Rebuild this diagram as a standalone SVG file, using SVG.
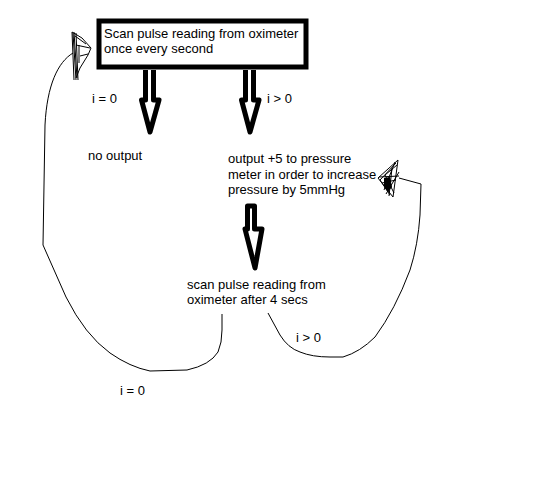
<svg xmlns="http://www.w3.org/2000/svg" width="535" height="504" viewBox="0 0 535 504">
<style>
.t{font-family:"Liberation Sans",Arial,sans-serif;font-size:13px;fill:#000}
.ln{fill:none;stroke:#000;stroke-width:1}
.arr{fill:#fff;stroke:#000;stroke-width:5;stroke-linejoin:round}
.sc{fill:none;stroke:#000;stroke-width:1}
</style>
<rect width="535" height="504" fill="#fff"/>
<g id="connectors">
<path class="ln" d="M73,53 C58,62 47,85 45,125 L43,245 L66,297 Q85,335 110,353 Q130,367 150,371 L187,370 Q210,365 218,352 Q222,343 222,330 V314"/>
<path class="ln" d="M268,313 L280,335 Q288,348 300,352 Q312,357 330,357 L343,357 Q360,352 375,337 Q395,310 410,270 Q418,245 420,215 L421,184 L410,181 L399,178"/>
<path class="arr" d="M145.5,70 V100 H141.5 L150,132 L159,100 H153.5 V70"/>
<path class="arr" d="M245.5,70 V100 H241.5 L250,132 L259,100 H253.5 V70"/>
<path class="arr" d="M247.5,206 H254.5 V229 H262 L255,268 L245,229 H247.5 Z"/>
<text class="t" x="92" y="103">i = 0</text>
<text class="t" x="267" y="103">i &gt; 0</text>
<text class="t" x="296" y="342">i &gt; 0</text>
<text class="t" x="120" y="395">i = 0</text>
</g>
<g id="scribble-left">
<path class="sc" d="M72,32 L74,80 M74,32 L77,78 M76,33 L78,80 M73,33 L76,80 M72,32 L82,38 L91,48 L88,55 L80,68 L76,78 M76,45 L90,48 M79,45 L79,63 M80,56 L88,54 M75,36 L86,44"/>
</g>
<g id="scribble-right">
<path class="sc" d="M398,160 L378,178 L393,197 L398,160 M396,163 L380,180 L390,195 M397,165 L385,175 L394,193 M379,177 L399,176 M382,183 L396,180 M392,168 L389,196 M395,162 L384,190 M399,172 L386,194"/>
<path d="M384,178 L390,177 L392,187 L388,192 L384,187 Z" fill="#000"/>
</g>
<g id="node-start">
<rect x="99" y="21" width="207" height="46" fill="#fff" stroke="#000" stroke-width="5"/>
<text class="t" x="104" y="38">Scan pulse reading from oximeter</text>
<text class="t" x="104" y="53">once every second</text>
</g>
<g id="node-no-output">
<text class="t" x="88" y="160">no output</text>
</g>
<g id="node-output">
<text class="t" x="228" y="163">output +5 to pressure</text>
<text class="t" x="228" y="179">meter in order to increase</text>
<text class="t" x="228" y="194">pressure by 5mmHg</text>
</g>
<g id="node-scan">
<text class="t" x="187" y="289">scan pulse reading from</text>
<text class="t" x="187" y="304">oximeter after 4 secs</text>
</g>
</svg>
